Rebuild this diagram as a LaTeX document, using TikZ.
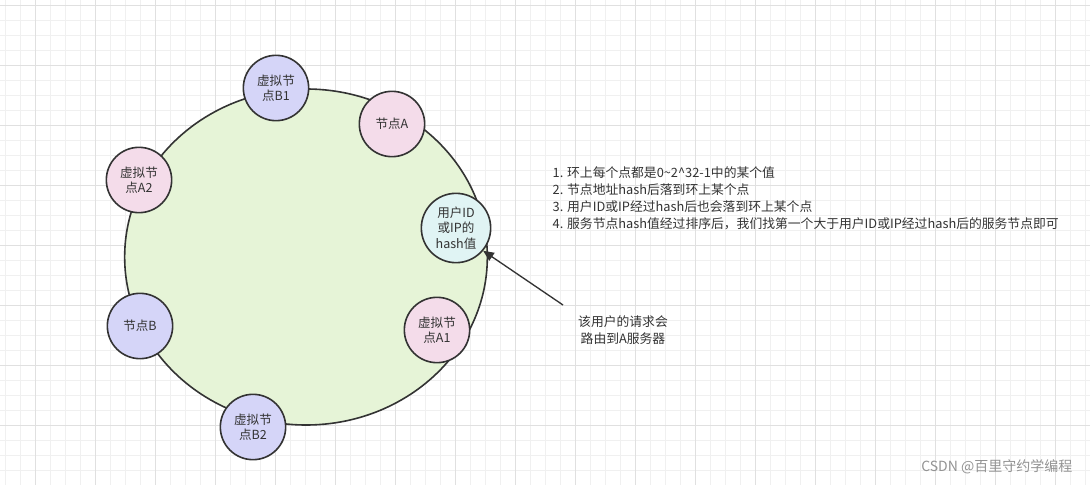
\documentclass[tikz,border=0pt]{standalone}
\usepackage{fontspec}
\setmainfont{Noto Sans CJK SC}
\usetikzlibrary{arrows.meta,shapes.geometric}
\definecolor{gminor}{HTML}{F0F0F0}
\definecolor{gmajor}{HTML}{E0E0E0}
\definecolor{ringg}{HTML}{E6F4D7}
\definecolor{vblue}{HTML}{D5D5F8}
\definecolor{vpink}{HTML}{F4DCEA}
\definecolor{vcyan}{HTML}{E0F4F4}
\definecolor{edge}{HTML}{333333}
\tikzset{
  nd/.style={circle,draw=edge,line width=1.2pt,minimum size=49pt,inner sep=0pt,align=center,font=\fontsize{9.4}{11.5}\selectfont,text=edge},
  bl/.style={nd,fill=vblue},
  pk/.style={nd,fill=vpink},
  txt/.style={font=\fontsize{9.6}{12.75}\selectfont,text=edge}
}
\begin{document}
\begin{tikzpicture}[x=0.75pt,y=-0.75pt]
\useasboundingbox (0,0) rectangle (1090,485);
\fill[white] (0,0) rectangle (1090,485);
\foreach \x in {5,20,...,1090} \draw[gminor,line width=0.6pt] (\x,0) -- (\x,485);
\foreach \y in {5,20,...,485} \draw[gminor,line width=0.6pt] (0,\y) -- (1090,\y);
\foreach \x in {35,95,...,1090} \draw[gmajor,line width=0.7pt] (\x,0) -- (\x,485);
\foreach \y in {5,65,...,485} \draw[gmajor,line width=0.7pt] (0,\y) -- (1090,\y);
\node[ellipse,draw=edge,fill=ringg,line width=1.2pt,minimum width=272pt,minimum height=252pt,inner sep=0pt] (ring) at (306,257) {};
\node[bl] (b1) at (276,88) {虚拟节\\点B1};
\node[pk] (a) at (392,124) {节点A};
\node[pk] (a2) at (139,180) {虚拟节\\点A2};
\node[nd,fill=vcyan,minimum size=52pt] (h) at (456,228) {用户ID\\或IP的\\hash值};
\node[bl] (b) at (140,326) {节点B};
\node[pk] (a1) at (437,330) {虚拟节\\点A1};
\node[bl] (b2) at (253,427) {虚拟节\\点B2};
\node[txt,align=center] (lbl) at (623,330) {该用户的请求会\\路由到A服务器};
\coordinate (s) at (563,305);
\draw[edge,line width=1pt,-{Triangle[length=8pt,width=7pt]}] (s) -- (h.-40);
\node[txt,align=left,anchor=north west] (list) at (548,162) {1. 环上每个点都是0\textasciitilde2\textasciicircum32-1中的某个值\\2. 节点地址hash后落到环上某个点\\3. 用户ID或IP经过hash后也会落到环上某个点\\4. 服务节点hash值经过排序后，我们找第一个大于用户ID或IP经过hash后的服务节点即可};
\node[font=\fontsize{10.5}{12}\selectfont,text=gray!85,anchor=east] (wm) at (1077,467) {CSDN @百里守约学编程};
\end{tikzpicture}
\end{document}
